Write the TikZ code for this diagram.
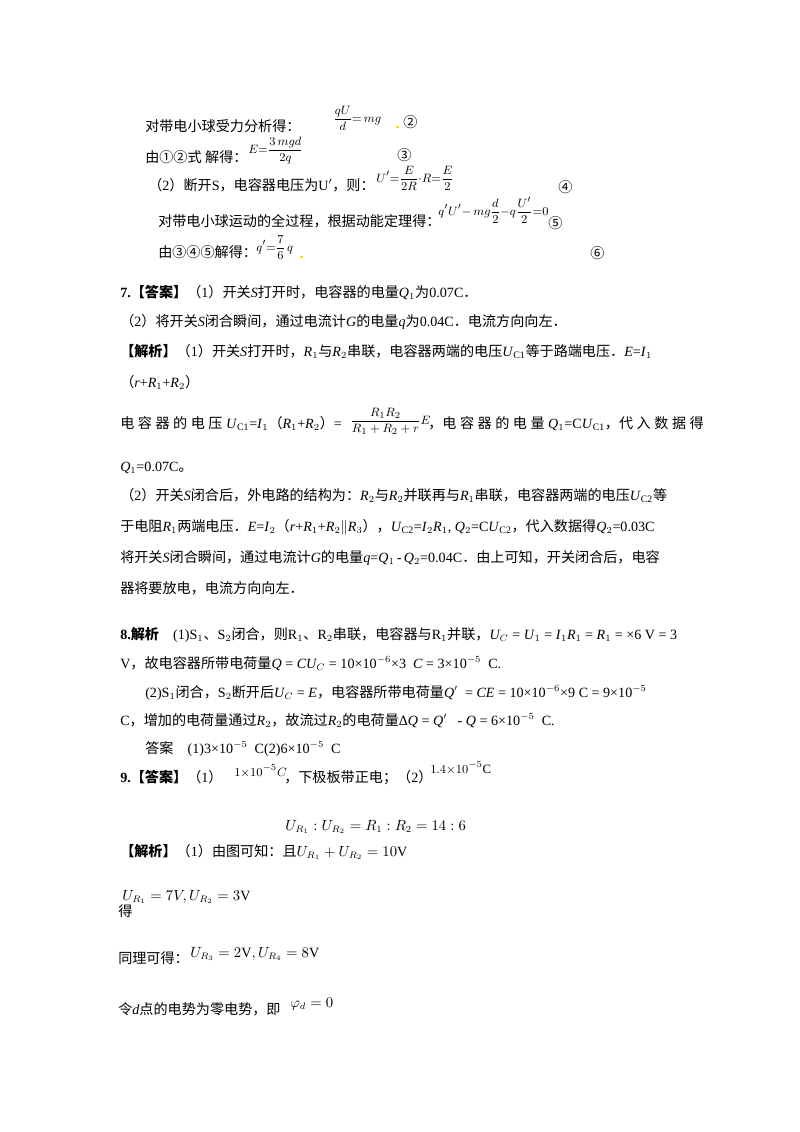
\documentclass[tikz,border=0pt]{standalone}
\usepackage{amsmath}
\usepackage{fontspec}
\setmainfont{Liberation Serif}
\newfontfamily\cjk{Noto Sans CJK SC}
\XeTeXinterchartokenstate=1
\newXeTeXintercharclass\CJKcls
\count255="3000
\loop \XeTeXcharclass\count255=\CJKcls \ifnum\count255<"9FFF \advance\count255 by 1 \repeat
\count255="FF00
\loop \XeTeXcharclass\count255=\CJKcls \ifnum\count255<"FFEF \advance\count255 by 1 \repeat
\count255="2460
\loop \XeTeXcharclass\count255=\CJKcls \ifnum\count255<"2473 \advance\count255 by 1 \repeat
\XeTeXinterchartoks 0 \CJKcls={\cjk}
\XeTeXinterchartoks 4095 \CJKcls={\cjk}
\XeTeXinterchartoks \CJKcls 0={\rmfamily}
\XeTeXinterchartoks \CJKcls 4095={\rmfamily}
\begin{document}
\begin{tikzpicture}[x=0.744pt,y=-0.744pt,
  t/.style={anchor=base west,inner sep=0pt,font=\fontsize{10.5}{12}\selectfont},
  s/.style={anchor=base west,inner sep=0pt,font=\fontsize{9.5}{11}\selectfont}]
\useasboundingbox[fill=white] (0,0) rectangle (800,1132);
% part continuing
\node[t] (a1) at (145,131) {对带电小球受力分析得：};
\node[s] (a1f) at (333,122) {$\dfrac{qU}{d}{=}\,mg$};
\node[t] (a1n) at (403,127) {②};
\fill[yellow!80!orange] (396,126) rectangle (399,128);
\node[t] (a2) at (145,162) {由①②式 解得：};
\node[s] (a2f) at (248,153) {$E{=}\dfrac{3\,mgd}{2q}$};
\node[t] (a2n) at (397,160) {③};
\node[t] (a3) at (148,190) {（2）断开S，电容器电压为U$'$，则：};
\node[s] (a3f) at (376,182) {$U'{=}\dfrac{E}{2R}{\cdot}R{=}\dfrac{E}{2}$};
\node[t] (a3n) at (558,192) {④};
\node[t] (a4) at (158,226) {对带电小球运动的全过程，根据动能定理得：};
\node[s] (a4f) at (438,215) {$q'U'{-}\,mg\dfrac{d}{2}{-}q\dfrac{U'}{2}{=}0$};
\node[t] (a4n) at (548,228) {⑤};
\node[t] (a5) at (158,257) {由③④⑤解得：};
\node[s] (a5f) at (256,251) {$q'{=}\dfrac{7}{6}\,q$};
\fill[yellow!80!orange] (300,256) rectangle (303,258);
\node[t] (a5n) at (590,258) {⑥};
% 7
\node[t] (b1) at (120,297) {\textbf{7.【答案】}（1）开关\textit{S}打开时，电容器的电量\textit{Q}$_1$为0.07C．};
\node[t] (b2) at (120,326) {（2）将开关\textit{S}闭合瞬间，通过电流计\textit{G}的电量\textit{q}为0.04C．电流方向向左．};
\node[t] (b3) at (120,356) {\textbf{【解析】}（1）开关\textit{S}打开时，\textit{R}$_1$与\textit{R}$_2$串联，电容器两端的电压\textit{U}$_{\mathrm{C1}}$等于路端电压．\textit{E}=\textit{I}$_1$};
\node[t] (b4) at (120,387) {（\textit{r}+\textit{R}$_1$+\textit{R}$_2$）};
\node[t] (b5) at (120,428) {电\ 容\ 器\ 的\ 电\ 压\ \textit{U}$_{\mathrm{C1}}$=\textit{I}$_1$（\textit{R}$_1$+\textit{R}$_2$）=};
\node[s] (b5f) at (350,424) {$\dfrac{R_1R_2}{R_1+R_2+r}E$};
\node[t] (b5b) at (428,428) {，电\ 容\ 器\ 的\ 电\ 量\ \textit{Q}$_1$=C\textit{U}$_{\mathrm{C1}}$，代\ 入\ 数\ 据\ 得};
\node[t] (b6) at (120,471) {\textit{Q}$_1$=0.07C。};
\node[t] (b7) at (120,500) {（2）开关\textit{S}闭合后，外电路的结构为：\textit{R}$_2$与\textit{R}$_2$并联再与\textit{R}$_1$串联，电容器两端的电压\textit{U}$_{\mathrm{C2}}$等};
\node[t] (b8) at (120,531) {于电阻\textit{R}$_1$两端电压．\textit{E}=\textit{I}$_2$（\textit{r}+\textit{R}$_1$+\textit{R}$_2$$\|$\textit{R}$_3$），\textit{U}$_{\mathrm{C2}}$=\textit{I}$_2$\textit{R}$_1$, \textit{Q}$_2$=C\textit{U}$_{\mathrm{C2}}$，代入数据得\textit{Q}$_2$=0.03C};
\node[t] (b9) at (120,562) {将开关\textit{S}闭合瞬间，通过电流计\textit{G}的电量\textit{q}=\textit{Q}$_1$\,-\,\textit{Q}$_2$=0.04C．由上可知，开关闭合后，电容};
\node[t] (b10) at (120,593) {器将要放电，电流方向向左．};
% 8
\node[t] (c1) at (120,639) {\textbf{8.解析}\quad (1)S$_1$、S$_2$闭合，则R$_1$、R$_2$串联，电容器与R$_1$并联，\textit{U$_C$} = \textit{U}$_1$ = \textit{I}$_1$\textit{R}$_1$ = \textit{R}$_1$ = ×6 V = 3};
\node[t] (c2) at (120,668) {V，故电容器所带电荷量\textit{Q} = \textit{CU$_C$} = 10×10$^{-6}$×3\ \ \textit{C} = 3×10$^{-5}$\ \ C.};
\node[t] (c3) at (145,697) {(2)S$_1$闭合，S$_2$断开后\textit{U$_C$} = \textit{E}，电容器所带电荷量\textit{Q}$'$\ \ = \textit{CE} = 10×10$^{-6}$×9 C = 9×10$^{-5}$};
\node[t] (c4) at (120,725) {C，增加的电荷量通过\textit{R}$_2$，故流过\textit{R}$_2$的电荷量Δ\textit{Q} = \textit{Q}$'$\ \ \ - \textit{Q} = 6×10$^{-5}$\ \ C.};
\node[t] (c5) at (145,753) {答案\quad (1)3×10$^{-5}$\ \ C(2)6×10$^{-5}$\ \ C};
% 9
\node[t] (d1) at (120,782) {\textbf{9.【答案】}（1）};
\node[s] (d1f) at (234,776) {$1{\times}10^{-5}C$};
\node[t] (d1b) at (284,782) {，下极板带正电；（2）};
\node[s] (d1g) at (430,773) {$1.4{\times}10^{-5}$C};
\node[t] (d2f) at (285,830) {$U_{R_1}:U_{R_2}=R_1:R_2=14:6$};
\node[t] (d3) at (120,856) {\textbf{【解析】}（1）由图可知：且$U_{R_1}+U_{R_2}=10\mathrm{V}$};
\node[t] (d4f) at (122,900) {$U_{R_1}=7V,U_{R_2}=3\mathrm{V}$};
\node[t] (d4) at (118,916) {得};
\node[t] (d5) at (118,963) {同理可得：};
\node[t] (d5f) at (190,957) {$U_{R_3}=2\mathrm{V},U_{R_4}=8\mathrm{V}$};
\node[t] (d6) at (118,1014) {令\textit{d}点的电势为零电势，即};
\node[t] (d6f) at (290,1007) {$\varphi_d=0$};
\end{tikzpicture}
\end{document}
